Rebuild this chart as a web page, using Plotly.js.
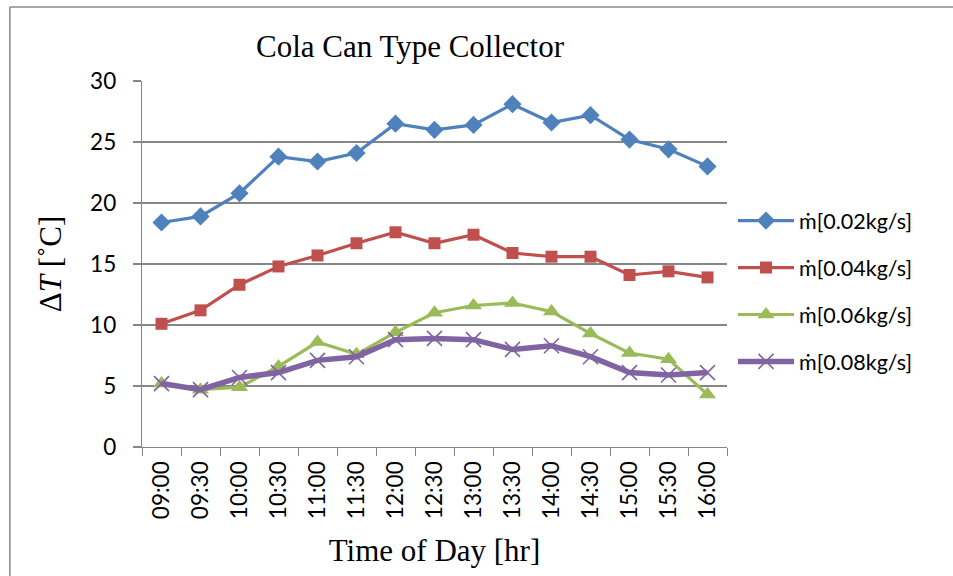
<!DOCTYPE html>
<html>
<head>
<meta charset="utf-8">
<script src="https://cdn.plot.ly/plotly-3.0.1.min.js"></script>
<style>
  html, body { margin: 0; padding: 0; background: #ffffff; }
  #chart { width: 953px; height: 576px; }
</style>
</head>
<body>
<div id="chart"></div>
<script>
const times = ["09:00","09:30","10:00","10:30","11:00","11:30","12:00","12:30","13:00","13:30","14:00","14:30","15:00","15:30","16:00"];
const seriesNames = ["ṁ[0.02kg/s]", "ṁ[0.04kg/s]", "ṁ[0.06kg/s]", "ṁ[0.08kg/s]"];
const dT_002 = [18.4, 18.9, 20.8, 23.8, 23.4, 24.1, 26.5, 26.0, 26.4, 28.1, 26.6, 27.2, 25.2, 24.4, 23.0];
const dT_004 = [10.1, 11.2, 13.3, 14.8, 15.7, 16.7, 17.6, 16.7, 17.4, 15.9, 15.6, 15.6, 14.1, 14.4, 13.9];
const dT_006 = [5.2, 4.7, 4.9, 6.6, 8.6, 7.6, 9.4, 11.0, 11.6, 11.8, 11.1, 9.3, 7.7, 7.2, 4.3];
const dT_008 = [5.2, 4.7, 5.7, 6.1, 7.1, 7.4, 8.8, 8.9, 8.8, 8.0, 8.3, 7.4, 6.1, 5.9, 6.1];
const yTicks = [0, 5, 10, 15, 20, 25, 30];

const tickFont = {family: "Lato, 'Open Sans', sans-serif", size: 22.5, color: "#000000"};
const serif = "'Liberation Serif', 'Times New Roman', serif";

const traces = [
  {x: times, y: dT_002, name: seriesNames[0], type: "scatter", mode: "lines+markers", legendgroup: "a",
   line: {color: "#4F81BD", width: 3.2}, marker: {symbol: "diamond", size: 14, color: "#4F81BD"}},
  {x: times, y: dT_004, name: seriesNames[1], type: "scatter", mode: "lines+markers", legendgroup: "b",
   line: {color: "#C0504D", width: 3.2}, marker: {symbol: "square", size: 12, color: "#C0504D"}},
  {x: times, y: dT_006, name: seriesNames[2], type: "scatter", mode: "lines+markers", legendgroup: "c",
   line: {color: "#9BBB59", width: 3.2}, marker: {symbol: "triangle-up", size: 15, color: "#9BBB59"}},
  {x: times, y: dT_008, name: seriesNames[3], type: "scatter", mode: "lines+markers", legendgroup: "d",
   line: {color: "#8064A2", width: 5.5}, marker: {symbol: "x-thin-open", size: 15, color: "#8064A2", line: {width: 1.6, color: "#8064A2"}}}
];

const L = 141.7, R = 727, T = 80.7, B = 447.3, W = 953, H = 576;
const px2x = p => (p - L) / (R - L);
const px2y = p => (B - p) / (B - T);

const layout = {
  width: W, height: H,
  margin: {l: L, r: W - R, t: T, b: H - B, pad: 0},
  paper_bgcolor: "#ffffff", plot_bgcolor: "#ffffff",
  showlegend: true,
  title: {text: "Cola Can Type Collector", font: {family: serif, size: 31, color: "#000000"},
          x: 410 / W, xanchor: "center", xref: "container", y: 1 - 46 / H, yanchor: "middle", yref: "container"},
  xaxis: {
    type: "category", range: [-0.5, 14.5], tickson: "boundaries",
    ticks: "outside", ticklen: 8, tickcolor: "#868686", tickwidth: 1,
    showline: true, linecolor: "#868686", linewidth: 1.3,
    showgrid: false, zeroline: false, tickangle: -90, tickfont: tickFont,
    ticklabelstandoff: 4,
    title: {text: "Time of Day [hr]", font: {family: serif, size: 31, color: "#000000"}, standoff: 21},
    automargin: false
  },
  yaxis: {
    range: [0, 30], tickvals: yTicks, ticktext: yTicks.map(String),
    ticks: "outside", ticklen: 8, tickcolor: "#868686", tickwidth: 1.3,
    showline: true, linecolor: "#868686", linewidth: 1.3,
    showgrid: true, gridcolor: "#868686", gridwidth: 1.3, zeroline: false,
    tickfont: tickFont, ticklabelstandoff: 12,
    title: {text: "Δ<i>T</i> [˚C]", font: {family: serif, size: 31, color: "#000000"}, standoff: 19},
    automargin: false
  },
  legend: {
    x: px2x(733), xanchor: "left", y: px2y(200), yanchor: "top",
    font: {family: "Lato, 'Open Sans', sans-serif", size: 21.5, color: "#000000"},
    bgcolor: "rgba(0,0,0,0)", tracegroupgap: 16, itemwidth: 56, traceorder: "grouped"
  },
  shapes: [
    {type: "line", xref: "paper", yref: "paper", x0: px2x(9.5), x1: px2x(9.5), y0: px2y(6.5), y1: px2y(580),
     line: {color: "#888888", width: 1.5}},
    {type: "line", xref: "paper", yref: "paper", x0: px2x(9.5), x1: px2x(960), y0: px2y(6.5), y1: px2y(6.5),
     line: {color: "#888888", width: 1.5}}
  ]
};

Plotly.newPlot("chart", traces, layout, {displayModeBar: false, staticPlot: true});
</script>
</body>
</html>
